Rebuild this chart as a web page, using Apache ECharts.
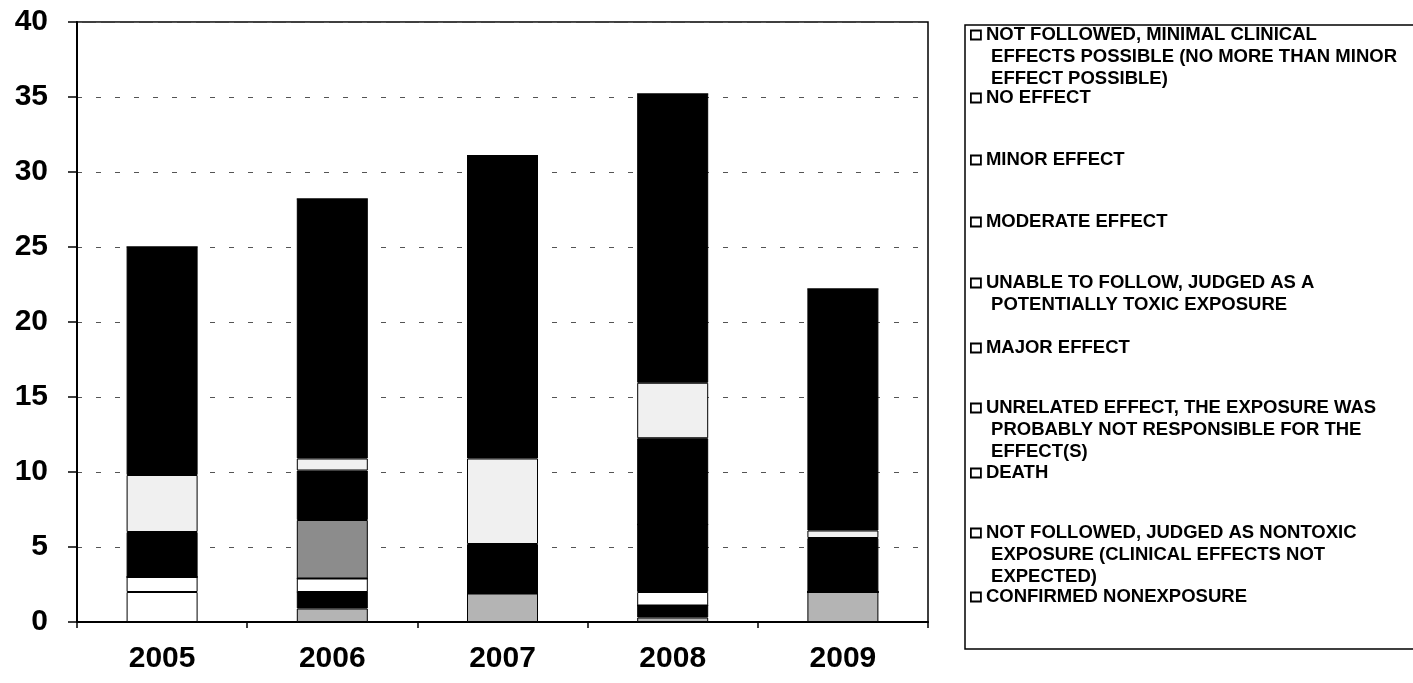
<!DOCTYPE html>
<html>
<head>
<meta charset="utf-8">
<script src="https://cdn.jsdelivr.net/npm/echarts@6/dist/echarts.min.js"></script>
<style>
  html, body { margin: 0; padding: 0; background: #fff; }
  #chart { width: 1413px; height: 683px; }
</style>
</head>
<body>
<div id="chart"></div>
<script>
// Years on the category axis
const years = ['2005', '2006', '2007', '2008', '2009'];

// Outcome categories, bottom of the stack first
const seriesNames = [
  'CONFIRMED NONEXPOSURE',
  'NOT FOLLOWED, JUDGED AS NONTOXIC EXPOSURE (CLINICAL EFFECTS NOT EXPECTED)',
  'DEATH',
  'UNRELATED EFFECT, THE EXPOSURE WAS PROBABLY NOT RESPONSIBLE FOR THE EFFECT(S)',
  'MAJOR EFFECT',
  'UNABLE TO FOLLOW, JUDGED AS A POTENTIALLY TOXIC EXPOSURE',
  'MODERATE EFFECT',
  'MINOR EFFECT',
  'NO EFFECT',
  'NOT FOLLOWED, MINIMAL CLINICAL EFFECTS POSSIBLE (NO MORE THAN MINOR EFFECT POSSIBLE)'
];

// Legend text, wrapped the way it is printed
const legendLines = [
  ['CONFIRMED NONEXPOSURE'],
  ['NOT FOLLOWED, JUDGED AS NONTOXIC', ' EXPOSURE (CLINICAL EFFECTS NOT', ' EXPECTED)'],
  ['DEATH'],
  ['UNRELATED EFFECT, THE EXPOSURE WAS', ' PROBABLY NOT RESPONSIBLE FOR THE', ' EFFECT(S)'],
  ['MAJOR EFFECT'],
  ['UNABLE TO FOLLOW, JUDGED AS A', ' POTENTIALLY TOXIC EXPOSURE'],
  ['MODERATE EFFECT'],
  ['MINOR EFFECT'],
  ['NO EFFECT'],
  ['NOT FOLLOWED, MINIMAL CLINICAL', ' EFFECTS POSSIBLE (NO MORE THAN MINOR', ' EFFECT POSSIBLE)']
];

// Values per year for each outcome
const confirmedNonexposure = [0, 0.9, 1.9, 0.3, 2.0];
const notFollowedNontoxic  = [0, 1.1, 0, 0.8, 0];
const death                = [2.0, 0, 0, 0, 0];
const unrelatedEffect      = [1.0, 0.9, 0, 0.9, 0];
const majorEffect          = [0, 0, 0, 4.5, 0];
const unableToFollow       = [0, 3.9, 0, 0, 0];
const moderateEffect       = [3.0, 3.3, 3.3, 5.75, 3.6];
const minorEffect          = [3.8, 0.8, 5.7, 3.7, 0.5];
const noEffect             = [15.2, 17.3, 20.2, 19.25, 16.1];
const notFollowedMinimal   = [0, 0, 0, 0, 0];

const seriesValues = [
  confirmedNonexposure, notFollowedNontoxic, death, unrelatedEffect, majorEffect,
  unableToFollow, moderateEffect, minorEffect, noEffect, notFollowedMinimal
];

// Y-axis ticks
const yMin = 0, yMax = 40, yStep = 5;

// Fill for each outcome (printed in black, white and greys)
const fills = ['#b4b4b4', '#000000', '#ffffff', '#ffffff', '#000000',
               '#8c8c8c', '#000000', '#f0f0f0', '#000000', '#a0a0a0'];

// Vertical centre of the first line of each legend entry
const legendCentres = [597, 533, 473, 408, 348, 283, 222, 160, 98, 35];

const FONT = '"Liberation Sans", Arial, sans-serif';
const LINE_H = 22;

const chart = echarts.init(document.getElementById('chart'), null, { renderer: 'canvas' });

const series = seriesNames.map((name, i) => ({
  name: name,
  type: 'bar',
  stack: 'total',
  barWidth: 71,
  data: seriesValues[i],
  itemStyle: { color: fills[i], borderColor: '#000', borderWidth: 1 },
  emphasis: { disabled: true }
}));

// One legend block per entry; blank lines in front keep the marker level with the first text line
const legends = seriesNames.map((name, i) => {
  const n = legendLines[i].length;
  const text = '\n'.repeat(n - 1) + legendLines[i].join('\n');
  return {
    data: [name],
    orient: 'vertical',
    left: 970,
    top: legendCentres[i] - LINE_H / 2 - (n - 1) * LINE_H,
    padding: 0,
    itemWidth: 10,
    itemHeight: 9,
    itemGap: 0,
    icon: 'rect',
    itemStyle: { color: '#ffffff', borderColor: '#000', borderWidth: 1.8 },
    formatter: () => text,
    textStyle: {
      fontFamily: FONT,
      fontSize: 18.5,
      fontWeight: 'bold',
      color: '#000',
      lineHeight: LINE_H
    }
  };
});

chart.setOption({
  backgroundColor: '#ffffff',
  animation: false,
  grid: {
    left: 77, right: 485, top: 22, bottom: 61,
    show: true, borderColor: '#000', borderWidth: 1.5, backgroundColor: 'transparent'
  },
  xAxis: {
    type: 'category',
    data: years,
    axisLine: { lineStyle: { color: '#000', width: 2 } },
    axisTick: { show: true, length: 6, lineStyle: { color: '#000', width: 1.5 } },
    axisLabel: { color: '#000', fontFamily: FONT, fontSize: 30, fontWeight: 'bold', margin: 22 }
  },
  yAxis: {
    type: 'value',
    min: yMin, max: yMax, interval: yStep,
    axisLine: { show: true, lineStyle: { color: '#000', width: 2 } },
    axisTick: { show: true, length: 9, lineStyle: { color: '#000', width: 1.5 } },
    axisLabel: { color: '#000', fontFamily: FONT, fontSize: 30, fontWeight: 'bold', margin: 29 },
    splitLine: { show: true, lineStyle: { color: '#555', width: 1, type: [5, 14] } }
  },
  legend: legends,
  graphic: [{
    type: 'rect',
    shape: { x: 965, y: 25, width: 500, height: 624 },
    style: { fill: 'none', stroke: '#000', lineWidth: 1.5 },
    silent: true
  }],
  series: series
});
</script>
</body>
</html>
